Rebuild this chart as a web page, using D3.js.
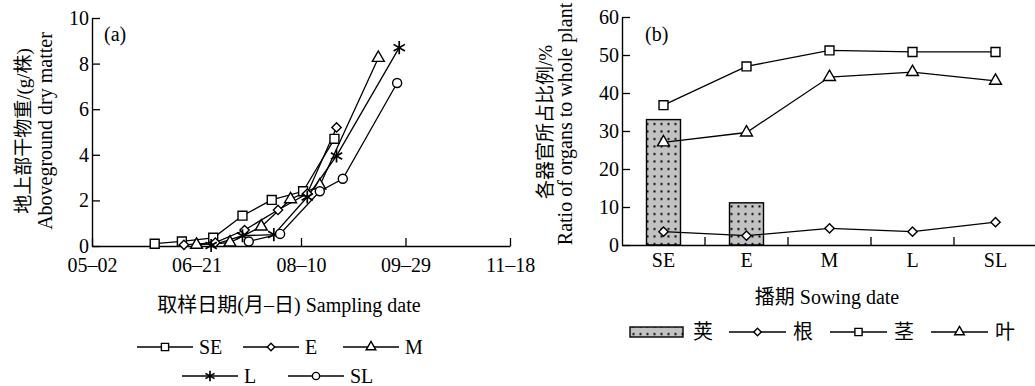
<!DOCTYPE html>
<html>
<head>
<meta charset="utf-8">
<script src="https://cdn.jsdelivr.net/npm/d3@7"></script>
<style>
  body { margin: 0; background: #fff; }
  svg text { font-family: "Liberation Serif", "Noto Sans CJK SC", serif; fill: #000; }
</style>
</head>
<body>
<div id="chart"></div>
<script>
// Data (a): sampling date (MM-DD) and aboveground dry matter (g/plant)
const dateTicks = ['05-02', '06-21', '08-10', '09-29', '11-18']
const seDates = ['06-01', '06-14', '06-29', '07-13', '07-27', '08-11', '08-26']
const seDry = [0.1, 0.2, 0.36, 1.33, 2.02, 2.4, 4.7]
const eDates = ['06-15', '06-30', '07-14', '07-30', '08-13', '08-27']
const eDry = [0.05, 0.15, 0.7, 1.58, 2.3, 5.2]
const mDates = ['06-21', '07-07', '07-22', '08-05', '08-19', '09-16']
const mDry = [0.05, 0.15, 0.85, 2.05, 2.65, 8.25]
const lDates = ['06-28', '07-13', '07-28', '08-13', '08-27', '09-26']
const lDry = [0.02, 0.45, 0.5, 2.15, 3.95, 8.7]
const slDates = ['07-16', '07-31', '08-19', '08-30', '09-25']
const slDry = [0.2, 0.53, 2.4, 2.95, 7.15]

// Data (b): ratio of organs to whole plant (%)
const sowing = ['SE', 'E', 'M', 'L', 'SL']
const pod = [33.0, 11.1, null, null, null]
const root = [3.5, 2.45, 4.4, 3.5, 6.0]
const stem = [36.8, 47.0, 51.2, 50.8, 50.8]
const leaf = [27.0, 29.6, 44.2, 45.5, 43.2]

const parse = d3.timeParse('%m-%d')

const svg = d3.select('#chart')
  .append('svg')
  .attr('width', 1035)
  .attr('height', 386)

// pattern for pod bars
const pat = svg.append('defs').append('pattern')
  .attr('id', 'dots')
  .attr('patternUnits', 'userSpaceOnUse')
  .attr('width', 7)
  .attr('height', 7.5)
pat.append('rect').attr('width', 7).attr('height', 7.5).attr('fill', '#c2c2c2')
pat.append('rect').attr('x', 2.5).attr('y', 3).attr('width', 2).attr('height', 2).attr('fill', '#000')

const shapes = {
  square: d3.symbolSquare,
  diamond: d3.symbolDiamond2,
  triangle: d3.symbolTriangle,
  star: d3.symbolAsterisk,
  circle: d3.symbolCircle
}
const sizes = { square: 80, diamond: 55, triangle: 62, star: 120, circle: 64 }

function marker(g, shape, x, y, k) {
  g.append('path')
    .attr('transform', `translate(${x},${y})`)
    .attr('d', d3.symbol(shapes[shape], sizes[shape] * (k || 1))())
    .attr('fill', shape == 'star' ? 'none' : '#fff')
    .attr('stroke', '#000')
    .attr('stroke-width', shape == 'star' ? 1.7 : 1.4)
}

// ---------- panel (a) ----------
const xa = d3.scaleTime()
  .domain([parse('05-02'), parse('11-18')])
  .range([92, 510])
const ya = d3.scaleLinear().domain([0, 10]).range([246, 18])

const ga = svg.append('g')

const xAxisA = ga.append('g')
  .attr('transform', 'translate(0,246)')
  .call(d3.axisBottom(xa).tickValues(dateTicks.map(parse)).tickSize(-8).tickSizeOuter(0)
    .tickFormat(d => d3.timeFormat('%m–%d')(d)))
ga.append('g')
  .attr('transform', 'translate(92,0)')
  .call(d3.axisLeft(ya).ticks(5).tickSize(-8).tickSizeOuter(0))

const seriesA = [
  { name: 'SE', shape: 'square', dates: seDates, vals: seDry },
  { name: 'E', shape: 'diamond', dates: eDates, vals: eDry },
  { name: 'M', shape: 'triangle', dates: mDates, vals: mDry },
  { name: 'L', shape: 'star', dates: lDates, vals: lDry },
  { name: 'SL', shape: 'circle', dates: slDates, vals: slDry }
]

const lineA = d3.line().x(d => xa(d[0])).y(d => ya(d[1]))
seriesA.forEach(s => {
  const pts = s.dates.map((d, i) => [parse(d), s.vals[i]])
  ga.append('path').attr('d', lineA(pts))
    .attr('fill', 'none').attr('stroke', '#000').attr('stroke-width', 1.3)
})
seriesA.forEach(s => {
  s.dates.forEach((d, i) => marker(ga, s.shape, xa(parse(d)), ya(s.vals[i])))
})

ga.append('text').attr('x', 104).attr('y', 41).attr('font-size', 20).text('(a)')

ga.append('text')
  .attr('transform', 'translate(30,131) rotate(-90)')
  .attr('text-anchor', 'middle').attr('font-size', 19)
  .text('地上部干物重/(g/株)')
ga.append('text')
  .attr('transform', 'translate(52,131) rotate(-90)')
  .attr('text-anchor', 'middle').attr('font-size', 20)
  .text('Aboveground dry matter')

ga.append('text').attr('x', 289).attr('y', 312).attr('text-anchor', 'middle').attr('font-size', 20)
  .text('取样日期(月–日)  Sampling date')

// legend (a)
const legA = [
  [137, 347], [243, 347], [343, 347],
  [182, 376], [288, 376]
]
seriesA.forEach((s, i) => {
  const [lx, ly] = legA[i]
  ga.append('line').attr('x1', lx).attr('x2', lx + 56).attr('y1', ly).attr('y2', ly)
    .attr('stroke', '#000').attr('stroke-width', 1.3)
  marker(ga, s.shape, lx + 28, ly, 0.65)
  ga.append('text').attr('x', lx + 62).attr('y', ly + 7).attr('font-size', 20).text(s.name)
})

// ---------- panel (b) ----------
const xb = d3.scaleBand().domain(sowing).range([622, 1037])
const yb = d3.scaleLinear().domain([0, 60]).range([245, 17])
const cx = d => xb(d) + xb.bandwidth() / 2
const barW = 34

const gb = svg.append('g')

gb.selectAll('rect.pod')
  .data(sowing.map((s, i) => [s, pod[i]]).filter(d => d[1] != null))
  .join('rect')
  .attr('class', 'pod')
  .attr('x', d => cx(d[0]) - barW / 2)
  .attr('y', d => yb(d[1]))
  .attr('width', barW)
  .attr('height', d => yb(0) - yb(d[1]))
  .attr('fill', 'url(#dots)')
  .attr('stroke', '#000')
  .attr('stroke-width', 1.4)

const xAxisB = gb.append('g')
  .attr('transform', 'translate(0,245)')
  .call(d3.axisBottom(xb).tickSize(0).tickPadding(8))
xAxisB.selectAll('.tick')
  .append('line')
  .attr('x1', xb.bandwidth() / 2).attr('x2', xb.bandwidth() / 2)
  .attr('y1', 0).attr('y2', -8)
  .attr('stroke', '#000')
gb.append('g')
  .attr('transform', 'translate(622,0)')
  .call(d3.axisLeft(yb).ticks(6).tickSize(-8).tickSizeOuter(0))

const seriesB = [
  { name: '根', shape: 'diamond', vals: root },
  { name: '茎', shape: 'square', vals: stem },
  { name: '叶', shape: 'triangle', vals: leaf }
]
const lineB = d3.line().x((d, i) => cx(sowing[i])).y(d => yb(d))
seriesB.forEach(s => {
  gb.append('path').attr('d', lineB(s.vals))
    .attr('fill', 'none').attr('stroke', '#000').attr('stroke-width', 1.3)
  s.vals.forEach((v, i) => marker(gb, s.shape, cx(sowing[i]), yb(v)))
})

gb.append('text').attr('x', 645).attr('y', 41).attr('font-size', 20).text('(b)')

gb.append('text')
  .attr('transform', 'translate(552,122) rotate(-90)')
  .attr('text-anchor', 'middle').attr('font-size', 19)
  .text('各器官所占比例/%')
gb.append('text')
  .attr('transform', 'translate(572,124) rotate(-90)')
  .attr('text-anchor', 'middle').attr('font-size', 20)
  .text('Ratio of organs to whole plant')

gb.append('text').attr('x', 827).attr('y', 304).attr('text-anchor', 'middle').attr('font-size', 20)
  .text('播期 Sowing date')

// legend (b)
gb.append('rect').attr('x', 630).attr('y', 327).attr('width', 53).attr('height', 10)
  .attr('fill', 'url(#dots)').attr('stroke', '#000').attr('stroke-width', 1.4)
gb.append('text').attr('x', 693).attr('y', 339).attr('font-size', 20).text('荚')
const legB = [729, 830, 931]
seriesB.forEach((s, i) => {
  const lx = legB[i], ly = 332
  gb.append('line').attr('x1', lx).attr('x2', lx + 57).attr('y1', ly).attr('y2', ly)
    .attr('stroke', '#000').attr('stroke-width', 1.3)
  marker(gb, s.shape, lx + 28.5, ly, 0.65)
  gb.append('text').attr('x', lx + 64).attr('y', ly + 7).attr('font-size', 20).text(s.name)
})

// shared axis styling
svg.selectAll('.domain').attr('stroke', '#000').attr('stroke-width', 1.4)
svg.selectAll('.tick line').attr('stroke', '#000').attr('stroke-width', 1.3)
svg.selectAll('.tick text')
  .attr('font-size', 20)
  .style('font-family', '"Liberation Serif", serif')
xAxisA.selectAll('.tick text').attr('dy', '1.15em')
</script>
</body>
</html>
